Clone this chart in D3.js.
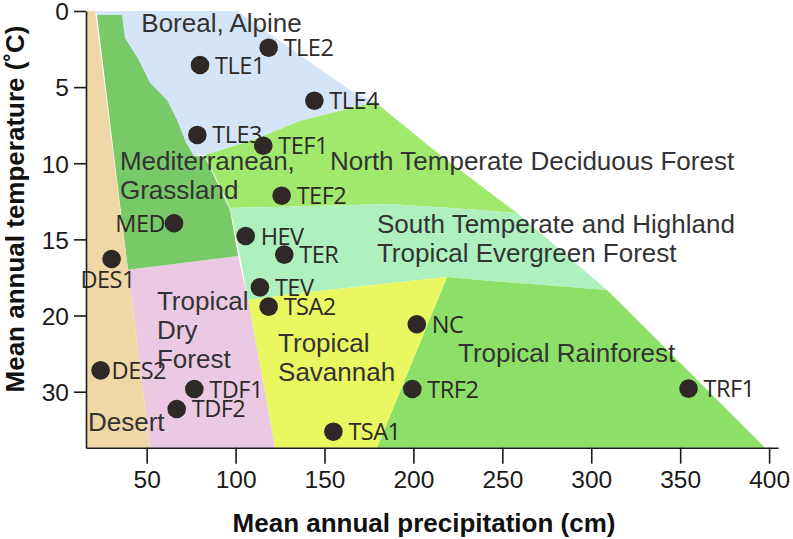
<!DOCTYPE html>
<html>
<head>
<meta charset="utf-8">
<script src="https://cdnjs.cloudflare.com/ajax/libs/d3/7.8.5/d3.min.js"></script>
<style>
  body { margin: 0; background: #fff; }
  svg { display: block; }
</style>
</head>
<body>
<svg id="chart" width="793" height="539"></svg>
<script>
// biome outlines, [precipitation cm, temperature C]
var desert = [[15.9,0],[21.0,0],[39.5,17.0],[51.9,37.35],[15.9,37.35]];
var boreal = [[21.0,0],[100.8,0],[164.3,5.19],[178.4,5.98],[136.2,7.22],[108.1,8.54],[82.8,9.46],[51.9,9.46],[22.1,0.26]];
var northTemperate = [[82.8,9.46],[108.1,8.54],[136.2,7.22],[178.4,5.98],[215.0,9.46],[258.3,13.27],[237.4,13.07],[186.8,12.68],[96.9,12.94]];
var southTemperate = [[96.9,12.94],[186.8,12.68],[237.4,13.07],[258.3,13.27],[308.9,18.33],[237.4,17.67],[218.9,17.47],[136.2,18.52],[107.0,18.98],[102.5,16.09]];
var rainforest = [[218.9,17.47],[237.4,17.67],[308.9,18.33],[397.7,37.35],[179.5,37.35]];
var savannah = [[107.0,18.98],[136.2,18.52],[218.9,17.47],[179.5,37.35],[122.2,37.35]];
var dryForest = [[39.5,17.0],[101.4,16.09],[107.0,18.98],[122.2,37.35],[51.9,37.35]];
var mediterranean = [[22.1,0.26],[36.1,0.26],[37.8,1.77],[45.0,3.1],[51.9,4.73],[61.4,5.85],[67.1,7.16],[72.0,8.6],[76.5,9.5],[82.8,9.59],[96.9,13.07],[101.4,16.09],[39.5,17.0]];

// sites
var siteNames = ["TLE1","TLE2","TLE4","TLE3","TEF1","TEF2","MED","HEV","TER","DES1","TEV","TSA2","NC","DES2","TDF1","TDF2","TSA1","TRF2","TRF1"];
var sitePrecip = [80.0,118.6,144.3,78.5,115.6,125.9,65.4,105.7,127.4,30.3,113.7,118.6,201.9,24.1,76.8,66.9,155.0,199.4,354.7];
var siteTemp = [3.55,2.41,5.89,8.14,8.85,12.13,13.94,14.78,16.0,16.29,18.15,19.42,21.15,27.2,29.65,32.27,35.25,29.65,29.6];

var xTicks = [50,100,150,200,250,300,350,400];
var yTicks = [0,5,10,15,20,30];

var regions = [
  {shape: boreal, fill: "#d5e5f8"},
  {shape: northTemperate, fill: "#a1e96c"},
  {shape: southTemperate, fill: "#aef0be"},
  {shape: rainforest, fill: "#8de067"},
  {shape: savannah, fill: "#e9f760"},
  {shape: dryForest, fill: "#ebc9e3"},
  {shape: mediterranean, fill: "#78c967"},
  {shape: desert, fill: "#efd7a6"}
];

var regionLabels = [
  {lines: ["Boreal, Alpine"], at: [47.0,1.36]},
  {lines: ["Mediterranean,","Grassland"], at: [35.0,10.44]},
  {lines: ["North Temperate Deciduous Forest"], at: [153.1,10.44]},
  {lines: ["South Temperate and Highland","Tropical Evergreen Forest"], at: [179.5,14.58]},
  {lines: ["Tropical","Dry","Forest"], at: [55.8,19.64]},
  {lines: ["Tropical","Savannah"], at: [123.9,24.75]},
  {lines: ["Tropical Rainforest"], at: [225.1,26.06]},
  {lines: ["Desert"], at: [17.0,35.16]}
];

var svg = d3.select("#chart");
var plotLeft = 86, plotRight = 778, plotTop = 11, plotBottom = 447.7;

var x = d3.scaleLinear().domain([15.9, 405]).range([plotLeft, plotRight]);
// temperature axis is stretched above 20
var y = d3.scaleLinear().domain([0, 20, 37.35]).range([plotTop, 315.5, plotBottom]);

var area = d3.line().x(d => x(d[0])).y(d => y(d[1]));

svg.append("g").selectAll("path")
  .data(regions)
  .enter().append("path")
    .attr("d", d => area(d.shape) + "Z")
    .attr("fill", d => d.fill);

var lbl = svg.append("g")
  .attr("font-family", "'Liberation Sans', Arial, sans-serif")
  .attr("font-size", 26)
  .attr("fill", "#333");
regionLabels.forEach(function(r) {
  var t = lbl.append("text").attr("x", x(r.at[0])).attr("y", y(r.at[1]));
  r.lines.forEach(function(s, i) {
    t.append("tspan").attr("x", x(r.at[0])).attr("dy", i == 0 ? 0 : 29).text(s);
  });
});

var sites = siteNames.map((n, i) => ({name: n, p: sitePrecip[i], t: siteTemp[i]}));

var pts = svg.append("g");
pts.selectAll("circle")
  .data(sites)
  .enter().append("circle")
    .attr("cx", d => x(d.p))
    .attr("cy", d => y(d.t))
    .attr("r", 9.3)
    .attr("fill", "#2e2927");

pts.selectAll("text")
  .data(sites)
  .enter().append("text")
    .attr("font-family", "'Open Sans', sans-serif")
    .attr("font-size", 23.5)
    .attr("letter-spacing", -0.5)
    .attr("fill", "#2e2927")
    .attr("text-anchor", d => d.name == "MED" ? "end" : (d.name == "DES1" ? "middle" : "start"))
    .attr("x", function(d) {
      if (d.name == "MED") return x(d.p) - 9;
      if (d.name == "DES1") return x(d.p) - 4;
      if (d.name == "DES2") return x(d.p) + 11;
      return x(d.p) + 15;
    })
    .attr("y", d => y(d.t) + (d.name == "DES1" ? 29 : 8.5))
    .text(d => d.name);

// axes
var xAxis = svg.append("g")
  .attr("transform", "translate(0," + plotBottom + ")")
  .call(d3.axisBottom(x).tickValues(xTicks).tickSize(16).tickPadding(7).tickSizeOuter(0));
var yAxis = svg.append("g")
  .attr("transform", "translate(" + plotLeft + ",0)")
  .call(d3.axisLeft(y).tickValues(yTicks).tickSize(12).tickPadding(5).tickSizeOuter(0));

[xAxis, yAxis].forEach(function(a) {
  a.selectAll("path, line").attr("stroke", "#1a1a1a").attr("stroke-width", 1.6);
  a.selectAll("text")
    .attr("font-family", "'Liberation Sans', Arial, sans-serif")
    .attr("font-size", 24.5)
    .attr("fill", "#1a1a1a");
});
yAxis.selectAll("text").attr("dy", "0.36em");

svg.append("text")
  .attr("x", 424)
  .attr("y", 532)
  .attr("text-anchor", "middle")
  .attr("font-family", "'Liberation Sans', Arial, sans-serif")
  .attr("font-weight", "bold")
  .attr("font-size", 26)
  .attr("fill", "#111")
  .text("Mean annual precipitation (cm)");

svg.append("text")
  .attr("transform", "translate(24,209) rotate(-90)")
  .attr("text-anchor", "middle")
  .attr("font-family", "'Liberation Sans', Arial, sans-serif")
  .attr("font-weight", "bold")
  .attr("font-size", 26)
  .attr("fill", "#111")
  .text("Mean annual temperature (˚C)");
</script>
</body>
</html>
